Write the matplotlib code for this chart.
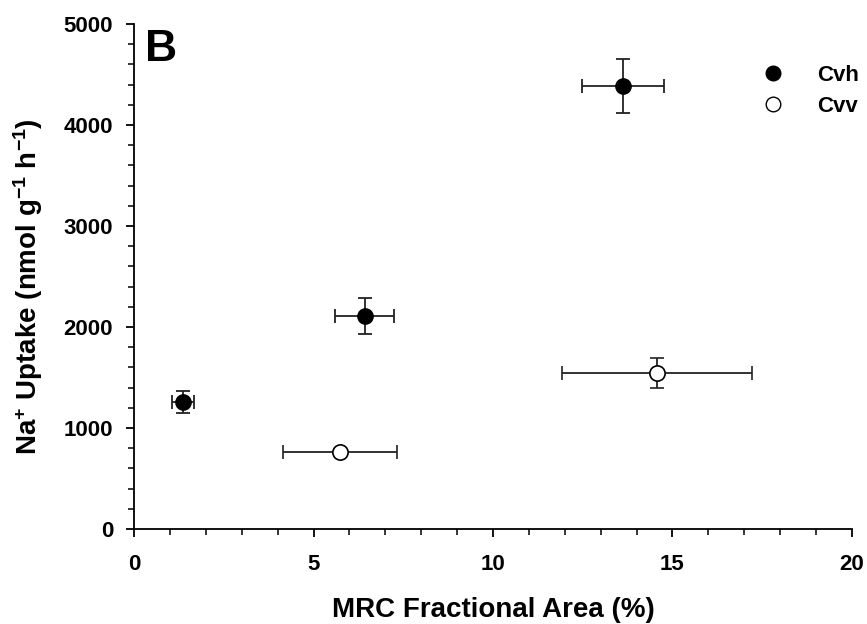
import matplotlib
matplotlib.use("Agg")
import matplotlib.pyplot as plt
from matplotlib.lines import Line2D
from matplotlib.ticker import MultipleLocator

plt.rcParams["font.family"] = ["Liberation Sans", "DejaVu Sans"]
plt.rcParams["font.weight"] = "bold"
plt.rcParams["mathtext.fontset"] = "custom"
plt.rcParams["mathtext.rm"] = "Liberation Sans:bold"
plt.rcParams["mathtext.it"] = "Liberation Sans:bold"
plt.rcParams["mathtext.bf"] = "Liberation Sans:bold"

# Cvh (filled)
cvh_x = [1.36, 6.43, 13.62]
cvh_xerr = [0.30, 0.82, 1.15]
cvh_y = [1257, 2109, 4385]
cvh_yerr = [110, 178, 268]

# Cvv (open)
cvv_x = [5.74, 14.57]
cvv_xerr = [1.60, 2.66]
cvv_y = [762, 1545]
cvv_yerr = [30, 150]


def main():
    fig = plt.figure(figsize=(8.67, 6.24), dpi=100)
    ax = fig.add_axes([0.1546, 0.1522, 0.828, 0.8093])

    err_kw = dict(ecolor="#222222", elinewidth=1.3, capsize=5, capthick=1.3,
                  linestyle="none", zorder=2)
    ax.errorbar(cvh_x, cvh_y, xerr=cvh_xerr, yerr=cvh_yerr, marker="o",
                markersize=11, markerfacecolor="black",
                markeredgecolor="black", **err_kw)
    ax.errorbar(cvv_x, cvv_y, xerr=cvv_xerr, yerr=cvv_yerr, marker="o",
                markersize=11, markerfacecolor="white",
                markeredgecolor="black", markeredgewidth=1.2, **err_kw)

    ax.set_xlim(0, 20)
    ax.set_ylim(0, 5000)
    ax.xaxis.set_major_locator(MultipleLocator(5))
    ax.xaxis.set_minor_locator(MultipleLocator(1))
    ax.yaxis.set_major_locator(MultipleLocator(1000))
    ax.yaxis.set_minor_locator(MultipleLocator(200))
    ax.tick_params(which="major", direction="out", length=6, width=1.3,
                   labelsize=16)
    ax.tick_params(axis="x", which="major", pad=12)
    ax.tick_params(axis="y", which="major", pad=9)
    ax.tick_params(which="minor", direction="out", length=4, width=1.1)
    for lbl in ax.get_xticklabels() + ax.get_yticklabels():
        lbl.set_fontweight("bold")
    for side in ("top", "right"):
        ax.spines[side].set_visible(False)
    for side in ("left", "bottom"):
        ax.spines[side].set_linewidth(1.3)

    ax.set_xlabel("MRC Fractional Area (%)", fontsize=20, fontweight="bold",
                  labelpad=16)
    ax.set_ylabel(r"Na$^{+}$ Uptake (nmol g$^{-1}$ h$^{-1}$)", fontsize=20,
                  fontweight="bold")
    ax.yaxis.set_label_coords(-0.124, 0.48)

    ax.text(0.015, 0.99, "B", transform=ax.transAxes, fontsize=32,
            fontweight="bold", va="top", ha="left")

    handles = [
        Line2D([], [], marker="o", linestyle="none", markersize=10.5,
               markerfacecolor="black", markeredgecolor="black"),
        Line2D([], [], marker="o", linestyle="none", markersize=10.5,
               markerfacecolor="white", markeredgecolor="black"),
    ]
    ax.legend(handles, ["Cvh", "Cvv"], loc="center left",
              bbox_to_anchor=(0.859, 0.868), frameon=False,
              borderpad=0, borderaxespad=0, handlelength=2.0,
              prop={"size": 16, "weight": "bold"}, handletextpad=1.0,
              labelspacing=0.45)

    fig.savefig("out.png", dpi=100)


if __name__ == "__main__":
    main()
